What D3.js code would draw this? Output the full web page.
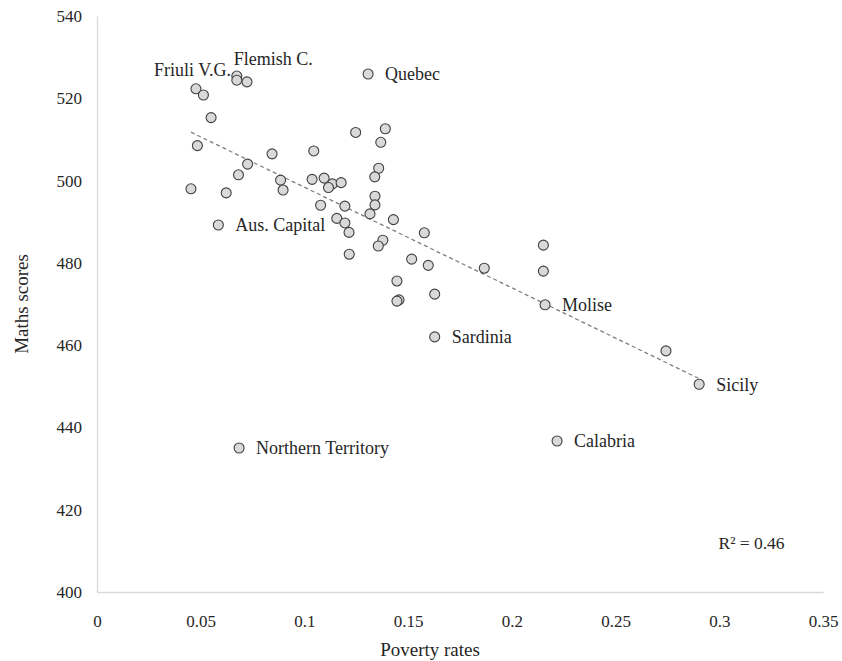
<!DOCTYPE html>
<html>
<head>
<meta charset="utf-8">
<script src="https://cdn.jsdelivr.net/npm/d3@7"></script>
<style>
  body { margin: 0; background: #fff; }
  text { font-family: "Liberation Serif", "Times New Roman", serif; fill: #262626; }
</style>
</head>
<body>
<svg width="842" height="661"></svg>
<script>
// poverty rate (x) and PISA maths score (y) per region
var povertyRates = [
  0.0477, 0.0513, 0.0550, 0.0484, 0.0674, 0.0674, 0.0723, 0.0844, 0.0726, 0.0682,
  0.0453, 0.0623, 0.0885, 0.0897, 0.0585, 0.1045, 0.1037, 0.1095, 0.1135, 0.1116,
  0.1177, 0.1078, 0.1195, 0.1156, 0.1195, 0.1215, 0.1216, 0.1247, 0.1390, 0.1368,
  0.1358, 0.1339, 0.1340, 0.1340, 0.1316, 0.1429, 0.1578, 0.1378, 0.1356, 0.1517,
  0.1597, 0.1446, 0.1456, 0.1446, 0.1628, 0.1628, 0.1867, 0.2152, 0.2152, 0.2160,
  0.2743, 0.2903, 0.1307, 0.0685, 0.2218
];
var mathsScores = [
  522.3, 520.8, 515.3, 508.5, 525.4, 524.4, 524.0, 506.5, 504.0, 501.4,
  498.0, 497.0, 500.1, 497.7, 489.2, 507.2, 500.3, 500.6, 499.2, 498.3,
  499.5, 494.0, 493.8, 490.8, 489.7, 487.4, 482.1, 511.7, 512.6, 509.3,
  503.0, 500.9, 496.2, 494.1, 491.9, 490.5, 487.3, 485.5, 484.1, 480.9,
  479.4, 475.6, 471.0, 470.7, 472.4, 462.0, 478.7, 484.3, 478.0, 469.8,
  458.6, 450.5, 525.9, 435.0, 436.7
];
// names shown next to some of the points (same order as above)
var regionNames = [
  "Friuli V.G.", "", "", "", "Flemish C.", "", "", "", "", "",
  "", "", "", "", "Aus. Capital", "", "", "", "", "",
  "", "", "", "", "", "", "", "", "", "",
  "", "", "", "", "", "", "", "", "", "",
  "", "", "", "", "", "Sardinia", "", "", "", "Molise",
  "", "Sicily", "Quebec", "Northern Territory", "Calabria"
];
var xTicks = [0, 0.05, 0.1, 0.15, 0.2, 0.25, 0.3, 0.35];
var yTicks = [400, 420, 440, 460, 480, 500, 520, 540];
var rSquared = "R² = 0.46";

var svg = d3.select("svg");
var margin = { top: 16, right: 19, bottom: 69, left: 97 };
var width = +svg.attr("width") - margin.left - margin.right;
var height = +svg.attr("height") - margin.top - margin.bottom;
var g = svg.append("g").attr("transform", "translate(" + margin.left + "," + margin.top + ")");

var x = d3.scaleLinear().domain([0, 0.35]).range([0, width]);
var y = d3.scaleLinear().domain([400, 540]).range([height, 0]);

var xAxis = g.append("g")
  .attr("transform", "translate(0," + height + ")")
  .call(d3.axisBottom(x).tickValues(xTicks).tickSize(0).tickPadding(23).tickFormat(d3.format("")));
var yAxis = g.append("g")
  .call(d3.axisLeft(y).tickValues(yTicks).tickSize(0).tickPadding(15));
[xAxis, yAxis].forEach(function (a) {
  a.select(".domain").attr("stroke", "#d9d9d9").attr("stroke-width", 1.3);
  a.selectAll("text").attr("font-size", 17).attr("font-family", "Liberation Serif").attr("fill", "#262626");
});

var data = povertyRates.map(function (p, i) {
  return { x: p, y: mathsScores[i], name: regionNames[i] };
});

// linear trend line (least squares)
var mx = d3.mean(data, d => d.x), my = d3.mean(data, d => d.y);
var slope = d3.sum(data, d => (d.x - mx) * (d.y - my)) / d3.sum(data, d => (d.x - mx) * (d.x - mx));
var icpt = my - slope * mx;
var ext = d3.extent(data, d => d.x);
g.append("path")
  .datum(ext.map(v => [v, icpt + slope * v]))
  .attr("d", d3.line().x(d => x(d[0])).y(d => y(d[1])))
  .attr("fill", "none")
  .attr("stroke", "#7f7f7f")
  .attr("stroke-width", 1.3)
  .attr("stroke-dasharray", "4,3");

g.selectAll("circle")
  .data(data)
  .enter()
  .append("circle")
  .attr("cx", d => x(d.x))
  .attr("cy", d => y(d.y))
  .attr("r", 5)
  .attr("fill", "#d9d9d9")
  .attr("stroke", "#404040")
  .attr("stroke-width", 1.1);

// label placement tweaks for the two crowded ones at the top left
var labelOffset = {
  "Friuli V.G.": { dx: 35, dy: -19, anchor: "end" },
  "Flemish C.": { dx: -3, dy: -17, anchor: "start" }
};
g.selectAll(".lbl")
  .data(data.filter(d => d.name))
  .enter()
  .append("text")
  .attr("class", "lbl")
  .attr("x", d => x(d.x) + (labelOffset[d.name] ? labelOffset[d.name].dx : 17))
  .attr("y", d => y(d.y) + (labelOffset[d.name] ? labelOffset[d.name].dy : 0))
  .attr("dy", "0.35em")
  .attr("text-anchor", d => labelOffset[d.name] ? labelOffset[d.name].anchor : "start")
  .attr("font-size", 18)
  .text(d => d.name);

g.append("text")
  .attr("x", x(0.3315))
  .attr("y", y(412))
  .attr("text-anchor", "end")
  .attr("dy", "0.35em")
  .attr("font-size", 17.5)
  .text(rSquared);

svg.append("text")
  .attr("x", 430)
  .attr("y", 656)
  .attr("text-anchor", "middle")
  .attr("font-size", 19)
  .text("Poverty rates");

svg.append("text")
  .attr("transform", "translate(28," + (margin.top + height / 2) + ") rotate(-90)")
  .attr("text-anchor", "middle")
  .attr("font-size", 19)
  .text("Maths scores");
</script>
</body>
</html>
